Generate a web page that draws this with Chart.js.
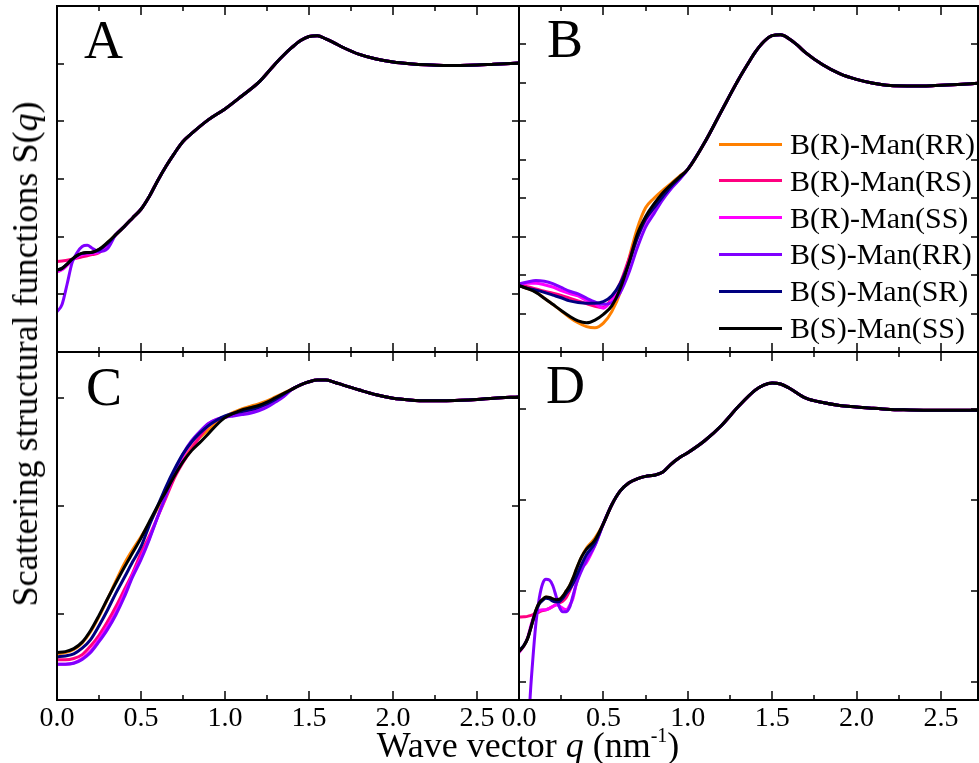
<!DOCTYPE html>
<html>
<head>
<meta charset="utf-8">
<script src="https://cdn.jsdelivr.net/npm/chart.js@4.4.1/dist/chart.umd.min.js"></script>
<style>
body{margin:0;background:#fff}
#wrap{position:relative;width:979px;height:763px;overflow:hidden;background:#fff}
canvas{position:absolute;left:0;top:0}
.txt{position:absolute;font-family:'Liberation Serif','Times New Roman',serif;line-height:1;white-space:nowrap;color:#000}
.leg-line{position:absolute;height:3px;width:63px}
</style>
</head>
<body>
<div id="wrap">
<canvas id="cA" width="979" height="763"></canvas>
<canvas id="cB" width="979" height="763"></canvas>
<canvas id="cC" width="979" height="763"></canvas>
<canvas id="cD" width="979" height="763"></canvas>
<div class="txt" style="left:84px;top:13px;font-size:54px">A</div>
<div class="txt" style="left:547px;top:12px;font-size:54px">B</div>
<div class="txt" style="left:86px;top:360px;font-size:54px">C</div>
<div class="txt" style="left:546px;top:358px;font-size:54px">D</div>
<div class="txt" style="left:25px;top:354px;font-size:36px;transform:translate(-50%,-50%) rotate(-90deg)">Scattering structural functions S(<i>q</i>)</div>
<div class="txt" style="left:528px;top:727px;font-size:36px;transform:translateX(-50%)">Wave vector <i>q</i> (nm<span style="font-size:20px;position:relative;top:-15px">-1</span>)</div>
<div id="legend"></div>
</div>
<script>
const seriesNames=['B(R)-Man(RR)','B(R)-Man(RS)','B(R)-Man(SS)','B(S)-Man(RR)','B(S)-Man(SR)','B(S)-Man(SS)']
const seriesColors=['#ff8000','#ff0080','#ff00ff','#8000ff','#000080','#000000']

const xMajor=[0,0.5,1.0,1.5,2.0,2.5]
const xMinor=[0.25,0.75,1.25,1.75,2.25]

// panel A
const qA=[0,0.03,0.06,0.09,0.12,0.15,0.18,0.21,0.25,0.3,0.35,0.4,0.45,0.5,0.55,0.6,0.65,0.7,0.75,0.8,0.9,1.0,1.1,1.2,1.3,1.35,1.4,1.45,1.5,1.55,1.6,1.65,1.7,1.8,1.9,2.0,2.1,2.2,2.3,2.4,2.5,2.6,2.75]
const aOrange=[0.283,0.289,0.303,0.32,0.334,0.342,0.344,0.346,0.355,0.378]
const aPink=[0.314,0.316,0.318,0.322,0.326,0.33,0.334,0.338,0.344,0.37]
const aMagenta=[0.278,0.285,0.3,0.318,0.33,0.337,0.34,0.342,0.346,0.368]
const aPurple=[0.14,0.165,0.235,0.31,0.345,0.366,0.37,0.36,0.348,0.358]
const aBlue=[0.284,0.29,0.305,0.321,0.334,0.342,0.344,0.346,0.354,0.376]
const aBlack=[0.285,0.29,0.305,0.322,0.335,0.343,0.345,0.346,0.356,0.38]
const tailA=[0.407,0.435,0.465,0.495,0.54,0.595,0.645,0.69,0.73,0.757,0.805,0.843,0.888,0.935,1.0,1.03,1.057,1.08,1.094,1.097,1.086,1.072,1.057,1.032,1.016,1.006,1.0,0.996,0.994,0.994,0.995,0.998,1.002]
const yTicksA=[0.2,0.4,0.6,0.8,1.0]

// panel B
const qB=[0,0.05,0.1,0.15,0.2,0.25,0.3,0.35,0.4,0.45,0.5,0.55,0.6,0.65,0.7,0.75,0.8,0.85,0.9,0.95,1.0,1.1,1.2,1.3,1.35,1.4,1.45,1.5,1.55,1.6,1.65,1.7,1.8,1.9,2.0,2.1,2.2,2.3,2.4,2.5,2.6,2.72]
const bOrange=[0.473,0.465,0.456,0.44,0.424,0.407,0.39,0.376,0.366,0.363,0.375,0.405,0.455,0.54,0.62,0.675,0.7,0.72,0.738,0.757]
const bPink=[0.475,0.47,0.464,0.458,0.453,0.447,0.44,0.433,0.426,0.419,0.416,0.44,0.48,0.54,0.6,0.645,0.675,0.705,0.73,0.752]
const bMagenta=[0.477,0.479,0.479,0.475,0.469,0.46,0.452,0.446,0.434,0.425,0.414,0.435,0.47,0.53,0.595,0.64,0.672,0.7,0.728,0.75]
const bPurple=[0.477,0.482,0.486,0.484,0.478,0.468,0.458,0.451,0.44,0.43,0.424,0.428,0.455,0.505,0.57,0.625,0.66,0.695,0.724,0.748]
const bBlue=[0.472,0.466,0.461,0.455,0.448,0.441,0.433,0.429,0.427,0.427,0.431,0.446,0.478,0.53,0.595,0.645,0.675,0.703,0.73,0.752]
const bBlack=[0.473,0.465,0.455,0.44,0.424,0.408,0.393,0.381,0.376,0.383,0.398,0.42,0.465,0.53,0.605,0.652,0.685,0.713,0.735,0.755]
const tailB=[0.775,0.845,0.927,1.008,1.045,1.08,1.107,1.123,1.125,1.115,1.098,1.078,1.047,1.024,1.009,0.999,0.993,0.992,0.992,0.994,0.996,0.999]
const yTicksB=[0.4,0.5,0.6,0.7,0.8,0.9,1.0,1.1]

// panel C
const qC=[0,0.05,0.1,0.15,0.2,0.25,0.3,0.35,0.4,0.45,0.5,0.55,0.6,0.65,0.7,0.75,0.8,0.85,0.9,0.95,1.0,1.05,1.1,1.15,1.2,1.25,1.3,1.35,1.4,1.45,1.5,1.55,1.6,1.65,1.7,1.8,1.9,2.0,2.1,2.2,2.3,2.4,2.5,2.6,2.75]
const cOrange=[0.407,0.41,0.417,0.432,0.458,0.493,0.533,0.575,0.615,0.648,0.678,0.71,0.745,0.782,0.822,0.856,0.885,0.908,0.925,0.942,0.956,0.966,0.974,0.98,0.986,0.993,1.002,1.011]
const cPink=[0.393,0.393,0.396,0.405,0.425,0.45,0.481,0.516,0.555,0.594,0.64,0.68,0.725,0.77,0.815,0.85,0.88,0.91,0.935,0.948,0.955,0.962,0.966,0.97,0.976,0.985,0.995,1.007]
const cMagenta=[0.383,0.383,0.386,0.396,0.413,0.44,0.47,0.503,0.545,0.59,0.63,0.675,0.725,0.775,0.825,0.865,0.895,0.918,0.94,0.95,0.955,0.96,0.964,0.968,0.974,0.982,0.993,1.005]
const cPurple=[0.383,0.383,0.385,0.394,0.41,0.435,0.463,0.497,0.538,0.585,0.625,0.672,0.725,0.776,0.83,0.87,0.9,0.922,0.94,0.95,0.955,0.958,0.961,0.964,0.97,0.978,0.99,1.003]
const cBlue=[0.4,0.402,0.407,0.42,0.44,0.472,0.508,0.547,0.583,0.62,0.655,0.705,0.75,0.795,0.835,0.87,0.897,0.918,0.935,0.948,0.958,0.964,0.968,0.972,0.978,0.986,0.996,1.008]
const cBlack=[0.41,0.412,0.419,0.434,0.461,0.496,0.534,0.571,0.607,0.641,0.675,0.713,0.75,0.784,0.82,0.852,0.877,0.896,0.916,0.937,0.954,0.964,0.972,0.977,0.982,0.99,1.0,1.01]
const tailC=[1.02,1.03,1.037,1.041,1.041,1.036,1.03,1.018,1.007,0.999,0.995,0.993,0.993,0.994,0.996,0.999,1.002]
const yTicksC=[0.5,0.75,1.0]

// panel D
const qD=[0,0.03,0.05,0.065,0.08,0.1,0.12,0.14,0.16,0.18,0.2,0.22,0.24,0.26,0.28,0.3,0.32,0.34,0.37,0.4,0.45,0.5,0.55,0.6,0.65,0.7,0.75,0.8,0.85,0.9,0.95,1.0,1.1,1.2,1.3,1.4,1.45,1.5,1.55,1.6,1.7,1.8,1.9,2.0,2.1,2.2,2.27,2.4,2.5,2.6,2.72]
const dOrange=[0.333,0.35,0.368,0.39,0.415,0.447,0.467,0.477,0.483,0.482,0.478,0.476,0.477,0.486,0.5,0.514,0.535,0.56,0.593,0.618,0.645]
const dPink=[0.428,0.429,0.43,0.432,0.434,0.438,0.442,0.446,0.448,0.452,0.457,0.462,0.467,0.472,0.482,0.5,0.52,0.537,0.563,0.59,0.63]
const dMagenta=[0.33,0.35,0.37,0.395,0.42,0.44,0.446,0.448,0.448,0.452,0.457,0.462,0.458,0.452,0.448,0.46,0.48,0.52,0.56,0.578,0.625]
const dPurple=[-0.6,-0.2,0.05,0.2,0.3,0.41,0.48,0.52,0.532,0.53,0.515,0.485,0.455,0.443,0.443,0.455,0.487,0.52,0.555,0.585,0.625]
const dBlue=[0.335,0.351,0.368,0.39,0.414,0.445,0.464,0.474,0.48,0.478,0.472,0.47,0.471,0.48,0.493,0.505,0.52,0.54,0.572,0.6,0.632]
const dBlack=[0.333,0.35,0.368,0.39,0.415,0.447,0.467,0.477,0.483,0.482,0.478,0.476,0.477,0.486,0.5,0.514,0.535,0.56,0.593,0.615,0.64]
const tailD=[0.685,0.737,0.775,0.797,0.808,0.815,0.818,0.826,0.848,0.866,0.88,0.913,0.955,1.007,1.052,1.066,1.072,1.069,1.058,1.03,1.018,1.01,1.006,1.002,0.999,0.998,0.997,0.997,0.997,0.997]
const yTicksD=[0.25,0.5,0.75,1.0]

const W=979,H=763,axisH=50
const serif="'Liberation Serif','Times New Roman',serif"

const panels=[
  {id:'cA',q:qA,low:[aOrange,aPink,aMagenta,aPurple,aBlue,aBlack],tail:tailA,yMin:0,yMax:1.2,yTicks:yTicksA,xMax:2.75,area:[57,6,519,352],labels:false},
  {id:'cB',q:qB,low:[bOrange,bPink,bMagenta,bPurple,bBlue,bBlack],tail:tailB,yMin:0.3,yMax:1.2,yTicks:yTicksB,xMax:2.72,area:[519,6,978,352],labels:false},
  {id:'cC',q:qC,low:[cOrange,cPink,cMagenta,cPurple,cBlue,cBlack],tail:tailC,yMin:0.3,yMax:1.106,yTicks:yTicksC,xMax:2.75,area:[57,352,519,700],labels:true},
  {id:'cD',q:qD,low:[dOrange,dPink,dMagenta,dPurple,dBlue,dBlack],tail:tailD,yMin:0.2,yMax:1.157,yTicks:yTicksD,xMax:2.72,area:[519,352,978,700],labels:true,cut:2.27}
]

const framePlugin={
  id:'frame',
  afterDatasetsDraw(chart,args,opts){
    const {ctx,chartArea:a,scales:{x,y}}=chart
    ctx.save()
    ctx.strokeStyle='#000'
    ctx.lineWidth=2
    ctx.strokeRect(a.left,a.top,a.right-a.left,a.bottom-a.top)
    ctx.lineWidth=1.5
    const line=(x1,y1,x2,y2)=>{ctx.beginPath();ctx.moveTo(x1,y1);ctx.lineTo(x2,y2);ctx.stroke()}
    xMajor.forEach(v=>{
      let px=Math.round(x.getPixelForValue(v))
      line(px,a.top,px,a.top+9)
      line(px,a.bottom,px,a.bottom-9)
    })
    xMinor.forEach(v=>{
      let px=Math.round(x.getPixelForValue(v))
      line(px,a.top,px,a.top+5)
      line(px,a.bottom,px,a.bottom-5)
    })
    opts.yTicks.forEach(v=>{
      let py=Math.round(y.getPixelForValue(v))
      line(a.left,py,a.left+7,py)
      line(a.right,py,a.right-7,py)
    })
    ctx.restore()
  }
}

function buildPanel(p){
  const datasets=seriesNames.map((name,i)=>{
    const ys=p.low[i].concat(p.tail)
    let pts=p.q.map((q,j)=>({x:q,y:ys[j]}))
    if(p.cut&&i==2) pts=pts.filter(pt=>pt.x<=p.cut)
    return {
      label:name,
      data:pts,
      borderColor:seriesColors[i],
      borderWidth:3,
      pointRadius:0,
      fill:false,
      cubicInterpolationMode:'monotone',
      order:5-i,
      clip:1
    }
  })
  const [l,t,r,b]=p.area
  const xScale={
    type:'linear',min:0,max:p.xMax,display:p.labels,
    grid:{display:false,drawTicks:false},
    border:{display:false},
    ticks:{stepSize:0.5,includeBounds:false,maxRotation:0,autoSkip:false,padding:2,color:'#000',
      font:{family:serif,size:28},callback:v=>v.toFixed(1)}
  }
  if(p.labels) xScale.afterFit=s=>{s.height=axisH}
  new Chart(document.getElementById(p.id).getContext('2d'),{
    type:'line',
    data:{datasets},
    options:{
      responsive:false,
      animation:false,
      events:[],
      layout:{padding:{left:l,top:t,right:W-r,bottom:H-b-(p.labels?axisH:0)}},
      scales:{
        x:xScale,
        y:{type:'linear',min:p.yMin,max:p.yMax,display:false}
      },
      plugins:{legend:{display:false},tooltip:{enabled:false},frame:{yTicks:p.yTicks}}
    },
    plugins:[framePlugin]
  })
}

panels.forEach(buildPanel)

const legend=document.getElementById('legend')
seriesNames.forEach((name,i)=>{
  const cy=144+i*36.8
  legend.innerHTML+=`<div class="leg-line" style="left:719px;top:${cy-1.5}px;background:${seriesColors[i]}"></div>
  <div class="txt" style="left:790px;top:${cy-15}px;font-size:30px">${name}</div>`
})
</script>
</body>
</html>
